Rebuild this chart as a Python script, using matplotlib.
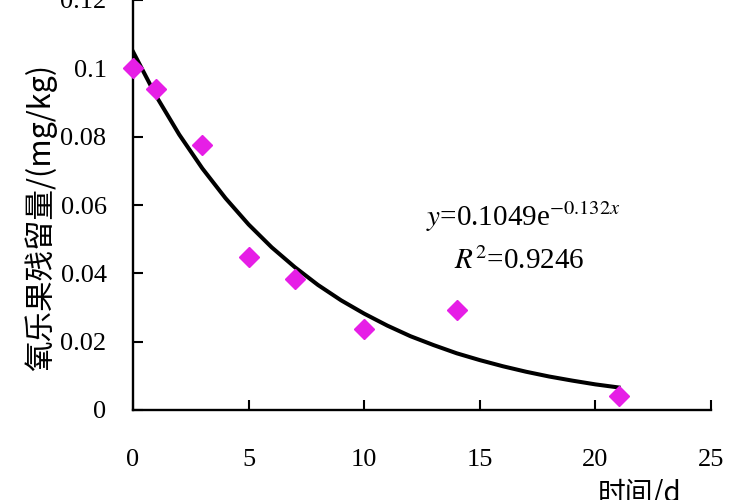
import matplotlib
matplotlib.use("Agg")
import matplotlib.pyplot as plt
import numpy as np

# measured data
days = [0, 1, 3, 5, 7, 10, 14, 21]
residue = [0.100, 0.094, 0.0775, 0.0447, 0.0383, 0.0237, 0.0292, 0.0041]

# fitted trend line (values at each day)
fit_x = [0, 1, 2, 3, 4, 5, 6, 7, 8, 9, 10, 11, 12, 13, 14, 15, 16, 17, 18, 19, 20, 21]
fit_y = [0.1049, 0.0919, 0.0806, 0.0707, 0.0620, 0.0543, 0.0476, 0.0418, 0.0366,
         0.0321, 0.0282, 0.0247, 0.0216, 0.0190, 0.0166, 0.0146, 0.0128, 0.0112,
         0.0098, 0.0086, 0.0075, 0.0066]

xticks = [0, 5, 10, 15, 20, 25]
yticks = [0, 0.02, 0.04, 0.06, 0.08, 0.1, 0.12]
ytick_labels = ["0", "0.02", "0.04", "0.06", "0.08", "0.1", "0.12"]

plt.rcParams['font.family'] = ['Liberation Serif', 'Noto Sans CJK SC']
plt.rcParams['mathtext.fontset'] = 'stix'

fig = plt.figure(figsize=(7.5, 5), dpi=100)
ax = fig.add_axes([133/750, 90/500, 578/750, 410/500])

ax.plot(fit_x, fit_y, color='black', lw=2.9, zorder=2)
ax.plot(days, residue, linestyle='none', marker='D', ms=10, color='#E61EE6',
        markeredgecolor='#E61EE6', zorder=3, clip_on=False)

ax.set_xlim(0, 25)
ax.set_ylim(0, 0.12)
ax.set_xticks(xticks)
ax.set_xticklabels([str(t) for t in xticks])
ax.set_yticks(yticks)
ax.set_yticklabels(ytick_labels)

for s in ['top', 'right']:
    ax.spines[s].set_visible(False)
for s in ['left', 'bottom']:
    ax.spines[s].set_linewidth(1.7)

ax.tick_params(axis='both', direction='in', length=7, width=1.5, labelsize=19)
ax.tick_params(axis='x', pad=28)
ax.tick_params(axis='y', pad=19)

ax.set_ylabel('氧乐果残留量/(mg/kg)', fontsize=22,
              family=['Noto Sans CJK SC', 'Liberation Serif'])
ax.yaxis.set_label_coords(-0.132, 0.47)
fig.text(640/750, 1 - 494/500, '时间/d', fontsize=20, ha='center', va='center',
         family=['Noto Sans CJK SC', 'Liberation Serif'])

ax.text(16.9, 0.0565, r'$y$=0.1049e$^{-0.132x}$', fontsize=21, ha='center', va='center')
ax.text(16.7, 0.0437, r'$R^{2}$=0.9246', fontsize=21, ha='center', va='center')

fig.savefig('out.png', dpi=100)
